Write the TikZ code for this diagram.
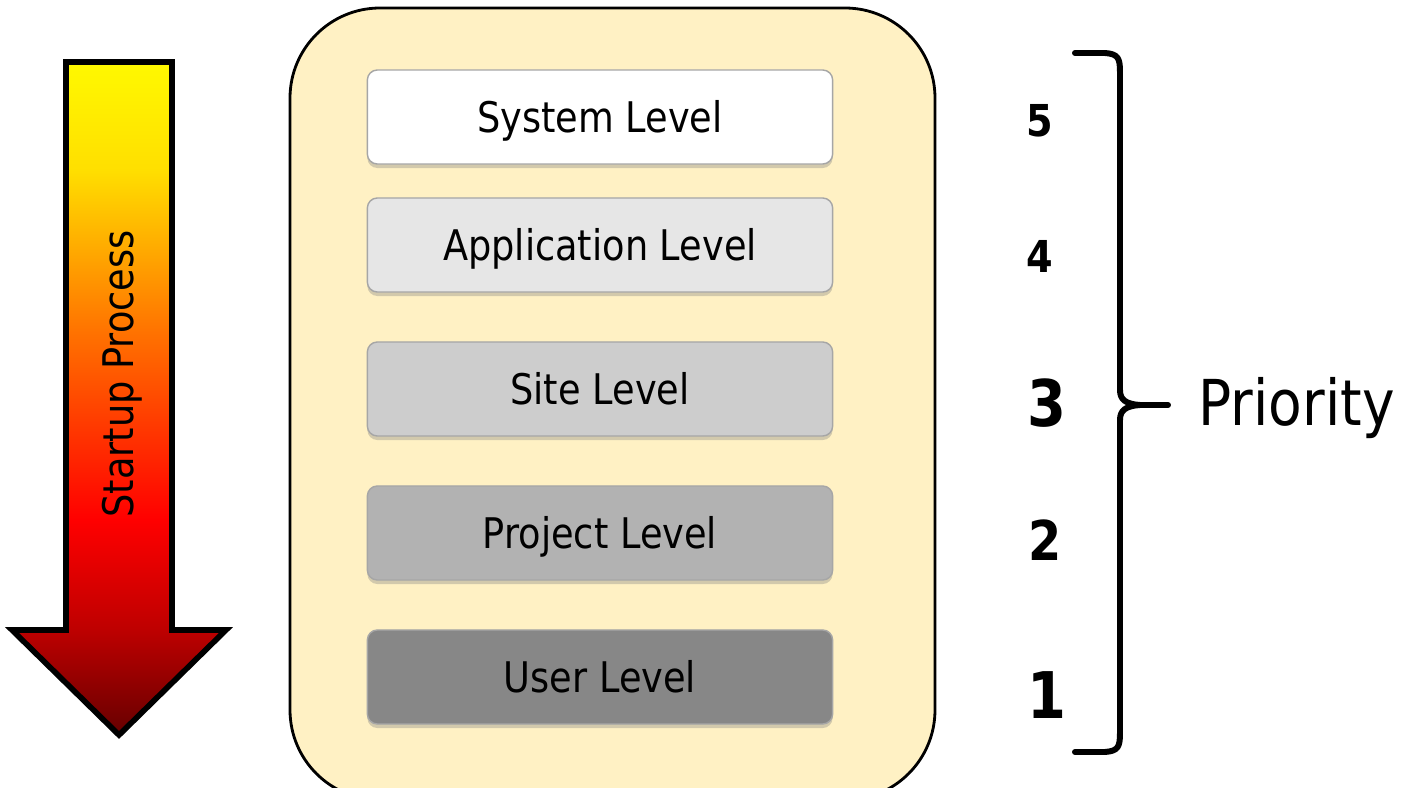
\documentclass[tikz,border=0pt]{standalone}
\usepackage{fontspec}
\setmainfont{DejaVu Sans}[FakeStretch=0.87]
\usepackage{tikz}
\usetikzlibrary{shapes,arrows,shadows}
\definecolor{boardyellow}{RGB}{255,241,196}
\definecolor{lvlfive}{RGB}{255,255,255}
\definecolor{lvlfour}{RGB}{230,230,230}
\definecolor{lvlthree}{RGB}{205,205,205}
\definecolor{lvltwo}{RGB}{178,178,178}
\definecolor{lvlone}{RGB}{135,135,135}
\pgfdeclareverticalshading{startup}{100bp}{color(0bp)=(red!40!black); color(25bp)=(red!40!black);
  color(33bp)=(red!75!black); color(41bp)=(red); color(55bp)=(orange!90!red); color(67bp)=(yellow!75!orange);
  color(75bp)=(yellow!95!orange); color(100bp)=(yellow!95!orange)}
\tikzstyle{level} = [rectangle, rounded corners=0.1cm, minimum width=4.65cm, minimum height=0.94cm,
  text centered, draw=gray!70, line width=0.4pt, drop shadow={shadow xshift=0cm, shadow yshift=-0.04cm, opacity=0.35},
  text height=8.6pt, text depth=0pt, inner sep=0pt, font=\fontsize{12}{14}\selectfont]
\tikzstyle{prio} = [inner sep=0pt, font=\bfseries]
\tikzstyle{brace} = [line width=1.7pt, line cap=round, line join=round]
\begin{document}
\begin{tikzpicture}[x=0.01cm,y=-0.01cm]
                        \useasboundingbox (0,0) rectangle (1408,788);
                        % board
                        \draw[fill=boardyellow, line width=0.8pt, rounded corners=0.9cm]
                            (290,8) rectangle (935,800);
                        % startup arrow
                        \draw[shading=startup, line width=1.6pt, line join=miter]
                            (66,62) -- (172,62) -- (172,630) -- (226,630) -- (119,735) -- (12,630) -- (66,630) -- cycle;
                        \node[rotate=90, inner sep=0pt, font=\fontsize{12}{14}\selectfont] (startup)
                            at (122,374) {Startup Process};
                        % levels
                        \node[level, fill=lvlfive] (system) at (600,117) {System Level};
                        \node[level, fill=lvlfour] (application) at (600,245) {Application Level};
                        \node[level, fill=lvlthree] (site) at (600,389) {Site Level};
                        \node[level, fill=lvltwo] (project) at (600,533) {Project Level};
                        \node[level, fill=lvlone] (user) at (600,677) {User Level};
                        % priorities
                        \node[prio, font=\bfseries\fontsize{12.5}{14}\selectfont] (p5) at (1040,121) {5};
                        \node[prio, font=\bfseries\fontsize{12.5}{14}\selectfont] (p4) at (1040,256) {4};
                        \node[prio, font=\bfseries\fontsize{18.3}{20}\selectfont] (p3) at (1047,403) {3};
                        \node[prio, font=\bfseries\fontsize{15.6}{18}\selectfont] (p2) at (1045,540) {2};
                        \node[prio, font=\bfseries\fontsize{18.3}{20}\selectfont] (p1) at (1047,695) {1};
                        % brace
                        \coordinate (btop) at (1075,53);
                        \coordinate (bbot) at (1075,752);
                        \coordinate (btip) at (1168,405);
                        \draw[brace] (btop) -- (1105,53) .. controls (1118,54) and (1120,58) .. (1120,72)
                            -- (1120,390) .. controls (1120,400) and (1126,404) .. (1140,405) -- (btip);
                        \draw[brace] (bbot) -- (1105,752) .. controls (1118,751) and (1120,747) .. (1120,733)
                            -- (1120,420) .. controls (1120,410) and (1126,406) .. (1140,405);
                        \node[inner sep=0pt, font=\fontsize{18}{20}\selectfont, anchor=west] (priority)
                            at (1198,408) {Priority};
                    \end{tikzpicture}
\end{document}
